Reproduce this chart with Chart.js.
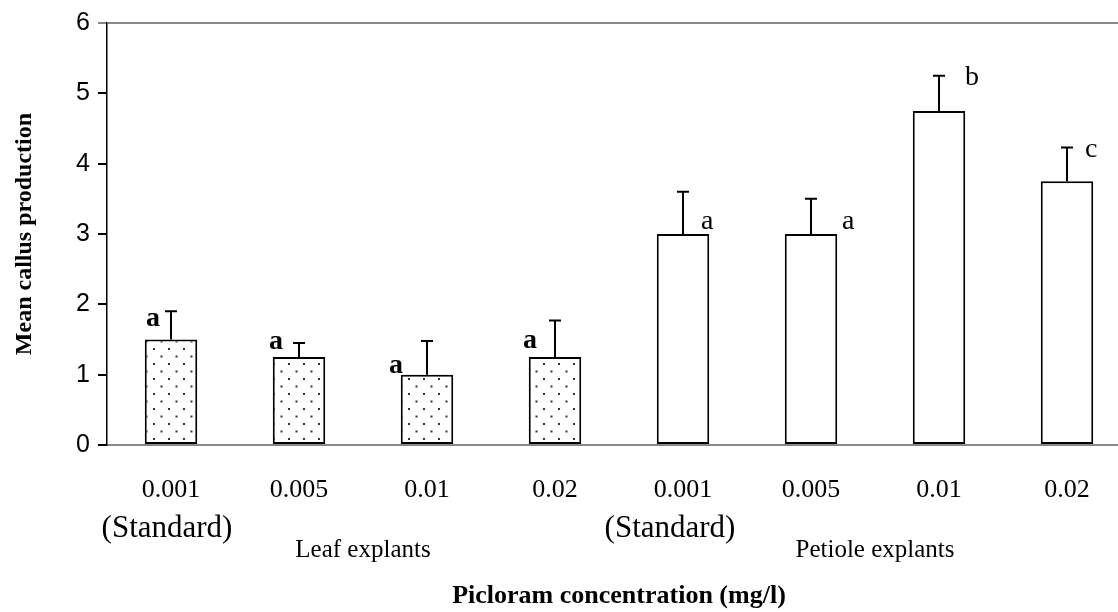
<!DOCTYPE html>
<html>
<head>
<meta charset="utf-8">
<script src="https://cdn.jsdelivr.net/npm/chart.js@4/dist/chart.umd.min.js"></script>
<style>
  html,body{margin:0;padding:0;background:#fff;overflow:hidden;}
  #wrap{width:1140px;height:612px;position:relative;}
</style>
</head>
<body>
<div id="wrap"><canvas id="callusChart"></canvas></div>
<script>
// values
const categories=["0.001","0.005","0.01","0.02","0.001","0.005","0.01","0.02"];
const subLabels=["(Standard)","","","","(Standard)","","",""];
const groupNames=["Leaf explants","Petiole explants"];
const groupCols=[[1,2],[5,6]]; // group label sits between these two bars
const meanCallus=[1.5,1.25,1.0,1.25,3.0,3.0,4.75,3.75];
const errSE=[0.4,0.2,0.48,0.52,0.6,0.5,0.5,0.48];
const letters=["a","a","a","a","a","a","b","c"];
const isLeaf=[true,true,true,true,false,false,false,false];

// stippled fill for the leaf bars
function dotPattern(){
  let c=document.createElement("canvas");
  c.width=15;c.height=15;
  let g=c.getContext("2d");
  g.fillStyle="#fff";g.fillRect(0,0,15,15);
  g.fillStyle="#333";
  g.fillRect(3,3,2,2);
  g.fillRect(10.5,10.5,2,2);
  return g.createPattern(c,"repeat");
}
const dots=dotPattern();

const serif="'Liberation Serif','Times New Roman',serif";

// label offsets relative to bar centre / bar top (px)
const letterPos=[[-18,-14],[-23,-8],[-31,-2],[-25,-9],[18,-5],[31,-5],[26,-26],[18,-24]];
const subShift=[-4,0,0,0,-13,0,0,0];

const extras={
  id:"extras",
  afterDatasetsDraw(chart){
    let ctx=chart.ctx,ys=chart.scales.y,xs=chart.scales.x;
    let bars=chart.getDatasetMeta(0).data;
    ctx.save();
    // error bars (upper only)
    ctx.strokeStyle="#000";ctx.lineWidth=2;
    bars.forEach((b,i)=>{
      let top=ys.getPixelForValue(meanCallus[i]+errSE[i]);
      ctx.beginPath();
      ctx.moveTo(b.x,b.y);ctx.lineTo(b.x,top);
      ctx.moveTo(b.x-6,top);ctx.lineTo(b.x+6,top);
      ctx.stroke();
    });
    // significance letters
    ctx.fillStyle="#000";ctx.textBaseline="alphabetic";
    bars.forEach((b,i)=>{
      let [dx,dy]=letterPos[i];
      if(isLeaf[i]){
        ctx.font="bold 28px "+serif;ctx.textAlign="center";
      } else {
        ctx.font="28px "+serif;ctx.textAlign="left";
      }
      ctx.fillText(letters[i],b.x+dx,b.y+dy);
    });
    // second line under tick labels + group names
    ctx.textAlign="center";ctx.textBaseline="middle";
    ctx.font="31px "+serif;
    subLabels.forEach((s,i)=>{
      if(s) ctx.fillText(s,xs.getPixelForValue(i)+subShift[i],529);
    });
    ctx.font="25px "+serif;
    groupNames.forEach((g,k)=>{
      let x=(xs.getPixelForValue(groupCols[k][0])+xs.getPixelForValue(groupCols[k][1]))/2;
      ctx.fillText(g,x,550);
    });
    ctx.restore();
  }
};

new Chart(document.getElementById("callusChart"),{
  type:"bar",
  data:{
    labels:categories,
    datasets:[{
      data:meanCallus,
      backgroundColor:isLeaf.map(l=>l?dots:"#fff"),
      borderColor:"#000",
      borderWidth:2,
      borderSkipped:false,
      barPercentage:0.82,
      categoryPercentage:0.5
    }]
  },
  options:{
    responsive:true,maintainAspectRatio:false,animation:false,
    layout:{padding:{top:23,right:9,left:0,bottom:0}},
    plugins:{legend:{display:false},tooltip:{enabled:false}},
    scales:{
      x:{
        grid:{display:false,drawTicks:false},
        border:{color:"#888",width:2},
        ticks:{color:"#000",font:{family:serif,size:26},padding:30},
        title:{display:true,text:"Picloram concentration (mg/l)",color:"#000",
               font:{family:serif,size:26,weight:"bold"},padding:{top:0,bottom:0}},
        afterFit:s=>{s.height=167;}
      },
      y:{
        min:0,max:6,
        ticks:{stepSize:1,color:"#000",font:{family:"'Liberation Sans',Arial,sans-serif",size:25},padding:8},
        grid:{
          color:c=>c.tick&&c.tick.value===6?"#888":"rgba(0,0,0,0)",
          tickColor:c=>c.tick&&c.tick.value===6?"#888":"#000",
          tickLength:9,lineWidth:2
        },
        border:{color:"#000",width:1.5},
        title:{display:true,text:"Mean callus production",color:"#000",
               font:{family:serif,size:24,weight:"bold"},padding:{top:10,bottom:0}},
        afterFit:s=>{s.width=107;}
      }
    }
  },
  plugins:[extras]
});
</script>
</body>
</html>
